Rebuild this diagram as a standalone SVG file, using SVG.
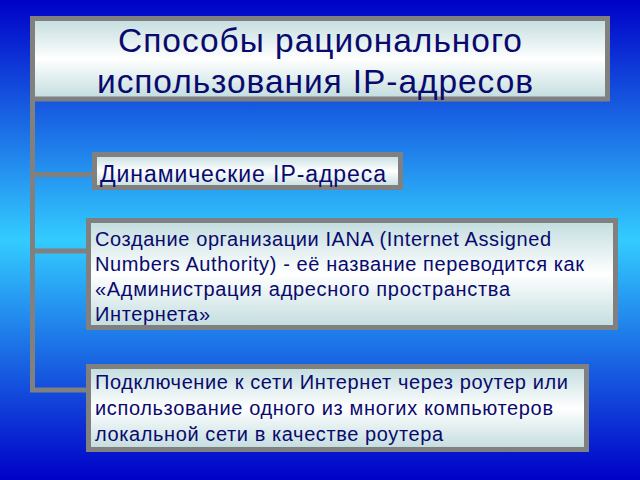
<svg xmlns="http://www.w3.org/2000/svg" width="640" height="480" viewBox="0 0 640 480">
<defs>
<linearGradient id="bg" x1="0" y1="0" x2="0" y2="1">
<stop offset="0" stop-color="#0000C8"/>
<stop offset="0.5" stop-color="#33CCFF"/>
<stop offset="1" stop-color="#0000C8"/>
</linearGradient>
<linearGradient id="box" x1="0" y1="0" x2="0" y2="1">
<stop offset="0" stop-color="#C2DCDE"/>
<stop offset="0.5" stop-color="#FFFFFF"/>
<stop offset="1" stop-color="#C2DCDE"/>
</linearGradient>
<style>
.b{fill:url(#box);stroke:#808080;stroke-width:5}
.c{stroke:#808080;stroke-width:5;fill:none}
.t{font-family:"Liberation Sans",Arial,sans-serif;fill:#0A0A6E}
</style>
</defs>
<rect width="640" height="480" fill="url(#bg)"/>
<g id="connectors">
<path class="c" d="M32.5 98 V390 H88"/>
<path class="c" d="M32.5 174.5 H94"/>
<path class="c" d="M32.5 251 H88"/>
</g>
<g id="title">
<rect class="b" x="32.5" y="18.5" width="575" height="80.5"/>
<text class="t" x="118" y="52" font-size="33.5" textLength="404" lengthAdjust="spacing">Способы рационального</text>
<text class="t" x="97" y="93" font-size="33.5" textLength="436" lengthAdjust="spacing">использования IP-адресов</text>
</g>
<g id="n1">
<rect class="b" x="94.5" y="154.5" width="306" height="33"/>
<text class="t" x="100" y="181.5" font-size="23" textLength="286" lengthAdjust="spacing">Динамические IP-адреса</text>
</g>
<g id="n2">
<rect class="b" x="88.5" y="220.5" width="527" height="107"/>
<text class="t" font-size="20"><tspan x="95" y="246" textLength="456" lengthAdjust="spacing">Создание организации IANA (Internet Assigned</tspan><tspan x="95" y="270.5" textLength="489" lengthAdjust="spacing">Numbers Authority) - её название переводится как</tspan><tspan x="95" y="295.5" textLength="415" lengthAdjust="spacing">«Администрация адресного пространства</tspan><tspan x="95" y="320.5" textLength="115" lengthAdjust="spacing">Интернета»</tspan></text>
</g>
<g id="n3">
<rect class="b" x="88.5" y="366.5" width="498" height="83"/>
<text class="t" font-size="20"><tspan x="95" y="389" textLength="473" lengthAdjust="spacing">Подключение к сети Интернет через роутер или</tspan><tspan x="95" y="415" textLength="458" lengthAdjust="spacing">использование одного из многих компьютеров</tspan><tspan x="95" y="441" textLength="348" lengthAdjust="spacing">локальной сети в качестве роутера</tspan></text>
</g>
</svg>
